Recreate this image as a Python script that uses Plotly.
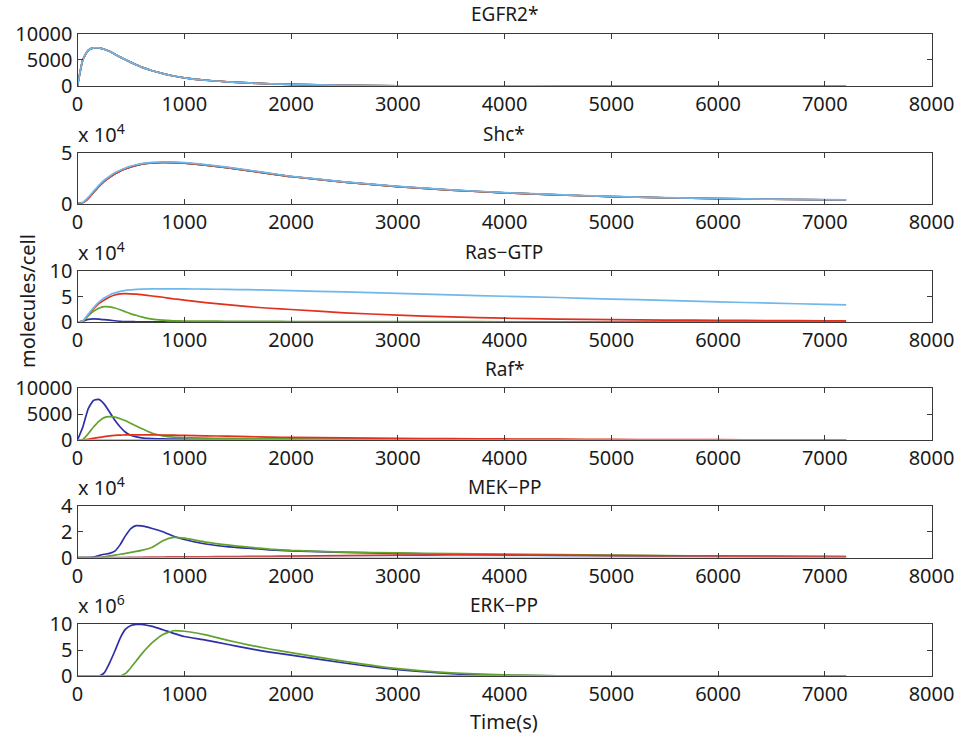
import plotly.graph_objects as go

T = [0, 50, 100, 150, 200, 250, 300, 350, 400, 450, 500, 550, 600, 700, 800, 900,
     1000, 1200, 1400, 1600, 1800, 2000, 2500, 3000, 3500, 4000, 4500, 5000, 5500,
     6000, 6500, 7000, 7200]

titles = ["EGFR2*", "Shc*", "Ras\u2212GTP", "Raf*", "MEK\u2212PP", "ERK\u2212PP"]
exponents = [None, 4, 4, None, 4, 6]
y_ranges = [[0, 10000], [0, 5], [0, 10], [0, 10000], [0, 4], [0, 10]]
y_ticks = [[0, 5000, 10000], [0, 5], [0, 5, 10], [0, 5000, 10000], [0, 2, 4], [0, 5, 10]]
x_ticks = [0, 1000, 2000, 3000, 4000, 5000, 6000, 7000, 8000]

Z = [0] * 33

egfr_blue = [0, 5000, 6800, 7250, 7250, 7000, 6600, 6050, 5500, 5000, 4500, 4050, 3600, 2900, 2350, 1900,
             1550, 1100, 800, 580, 420, 300, 120, 50, 20, 8, 3, 0, 0, 0, 0, 0, 0]
egfr_lightblue = egfr_blue

shc_lightblue = [0, 0.1, 0.6, 1.2, 1.8, 2.3, 2.7, 3.05, 3.3, 3.52, 3.7, 3.84, 3.95, 4.08, 4.12, 4.1,
                 4.05, 3.85, 3.6, 3.3, 3.0, 2.7, 2.15, 1.7, 1.35, 1.08, 0.87, 0.7, 0.58, 0.5, 0.43, 0.38, 0.36]
shc_other = [0, 0.08, 0.5, 1.1, 1.7, 2.2, 2.6, 2.95, 3.22, 3.45, 3.63, 3.78, 3.9, 4.02, 4.06, 4.04,
             4.0, 3.8, 3.55, 3.26, 2.96, 2.67, 2.12, 1.68, 1.33, 1.06, 0.85, 0.69, 0.57, 0.49, 0.42, 0.37, 0.35]

ras_lightblue = [0, 0.2, 1.5, 2.8, 3.9, 4.7, 5.3, 5.7, 6.0, 6.2, 6.3, 6.38, 6.45, 6.5, 6.5, 6.5,
                 6.5, 6.45, 6.4, 6.33, 6.25, 6.15, 5.9, 5.6, 5.3, 5.05, 4.8, 4.5, 4.25, 3.95, 3.7, 3.45, 3.35]
ras_red = [0, 0.2, 1.4, 2.6, 3.6, 4.3, 4.9, 5.3, 5.5, 5.55, 5.5, 5.45, 5.35, 5.1, 4.85, 4.55,
           4.3, 3.8, 3.4, 3.0, 2.7, 2.45, 1.8, 1.35, 1.0, 0.75, 0.58, 0.47, 0.38, 0.32, 0.28, 0.25, 0.24]
ras_green = [0, 0.2, 1.2, 2.1, 2.7, 3.0, 2.95, 2.75, 2.4, 2.0, 1.6, 1.3, 1.0, 0.55, 0.35, 0.25,
             0.2, 0.17, 0.15, 0.13, 0.11, 0.1, 0.08, 0.07, 0.06, 0.05, 0.05, 0.04, 0.04, 0.03, 0.03, 0.03, 0.03]
ras_blue = [0, 0.2, 0.5, 0.6, 0.55, 0.45, 0.35, 0.25, 0.15, 0.1, 0.07, 0.05, 0.03, 0.02, 0.01, 0,
            0, 0, 0, 0, 0, 0, 0, 0, 0, 0, 0, 0, 0, 0, 0, 0, 0]

raf_blue = [0, 2500, 6000, 7600, 7800, 6900, 5400, 3800, 2500, 1500, 900, 600, 400, 250, 200, 170,
            150, 130, 110, 90, 80, 70, 55, 40, 30, 25, 20, 15, 12, 10, 8, 6, 5]
raf_green = [0, 100, 1200, 2500, 3600, 4300, 4500, 4400, 4100, 3700, 3200, 2700, 2200, 1300, 800, 550,
             450, 350, 300, 260, 230, 200, 160, 120, 90, 70, 55, 40, 32, 25, 20, 16, 15]
raf_red = [0, 20, 150, 300, 500, 650, 800, 900, 950, 980, 1000, 1000, 1000, 980, 950, 920,
           880, 800, 730, 650, 570, 500, 400, 320, 250, 200, 150, 110, 85, 60, 45, 35, 30]

mek_blue = [0, 0, 0, 0.03, 0.15, 0.25, 0.32, 0.5, 1.0, 1.7, 2.25, 2.47, 2.45, 2.25, 2.0, 1.65,
            1.4, 1.05, 0.85, 0.72, 0.6, 0.52, 0.4, 0.32, 0.26, 0.21, 0.17, 0.14, 0.11, 0.09, 0.07, 0.06, 0.05]
mek_green = [0, 0, 0, 0, 0, 0.05, 0.12, 0.18, 0.25, 0.32, 0.4, 0.47, 0.55, 0.8, 1.3, 1.56,
             1.5, 1.2, 0.98, 0.8, 0.65, 0.55, 0.42, 0.36, 0.3, 0.26, 0.22, 0.18, 0.15, 0.12, 0.1, 0.09, 0.08]
mek_red = [0, 0, 0, 0, 0, 0, 0, 0, 0, 0, 0.01, 0.01, 0.02, 0.03, 0.04, 0.045,
           0.05, 0.06, 0.07, 0.08, 0.09, 0.11, 0.15, 0.18, 0.2, 0.2, 0.18, 0.15, 0.13, 0.1, 0.08, 0.07, 0.06]

erk_blue = [0, 0, 0, 0, 0, 0.6, 2.5, 4.8, 7.3, 9.0, 9.7, 9.9, 9.9, 9.55, 8.9, 8.2,
            7.6, 6.9, 6.1, 5.3, 4.6, 4.0, 2.5, 1.2, 0.45, 0.12, 0.03, 0, 0, 0, 0, 0, 0]
erk_green = [0, 0, 0, 0, 0, 0, 0, 0, 0, 0.5, 1.6, 2.9, 4.2, 6.4, 8.0, 8.7,
             8.6, 7.9, 6.9, 6.0, 5.2, 4.5, 2.8, 1.4, 0.6, 0.2, 0.05, 0, 0, 0, 0, 0, 0]

panels = [
    [egfr_blue, egfr_blue, egfr_blue, egfr_lightblue],
    [shc_other, shc_other, shc_other, shc_lightblue],
    [ras_blue, ras_green, ras_red, ras_lightblue],
    [raf_blue, raf_green, raf_red, Z],
    [mek_blue, mek_green, mek_red, Z],
    [erk_blue, erk_green, Z, Z],
]
colors = ["#2f2fa8", "#62a32e", "#e2301e", "#70b8ea"]

W, H = 959, 736
left_px, right_px = 77.5, 931.5
tops_px = [33.5, 153, 271, 388, 506, 624]
bots_px = [86, 203.5, 322, 440, 557.5, 676]

FONT = "Noto Sans"
TXT = "#1a1a1a"
AX = "#3a3a3a"

fig = go.Figure()
layout = dict(width=W, height=H, margin=dict(l=0, r=0, t=0, b=0, autoexpand=False),
              paper_bgcolor="white", plot_bgcolor="white", showlegend=False,
              font=dict(family=FONT, size=20, color=TXT))
annotations = []
for i in range(6):
    n = i + 1
    xa = "x" if n == 1 else f"x{n}"
    ya = "y" if n == 1 else f"y{n}"
    for s, c in zip(panels[i], colors):
        fig.add_trace(go.Scatter(x=T, y=s, mode="lines",
                                 line=dict(color=c, width=1.7, shape="spline", smoothing=0.5),
                                 xaxis=xa, yaxis=ya, hoverinfo="skip"))
    dom_y = [1 - bots_px[i] / H, 1 - tops_px[i] / H]
    layout[f"xaxis{n if n > 1 else ''}"] = dict(
        domain=[left_px / W, right_px / W], anchor=ya, range=[0, 8000],
        tickvals=x_ticks, ticktext=[str(v) for v in x_ticks],
        ticks="inside", ticklen=5, tickcolor=AX, showline=True, linecolor=AX, linewidth=1,
        mirror="ticks", showgrid=False, zeroline=False, automargin=False,
        tickfont=dict(family=FONT, size=20, color=TXT))
    layout[f"yaxis{n if n > 1 else ''}"] = dict(
        domain=dom_y, anchor=xa, range=y_ranges[i],
        tickvals=y_ticks[i], ticktext=[str(v) for v in y_ticks[i]],
        ticks="inside", ticklen=5, tickcolor=AX, showline=True, linecolor=AX, linewidth=1,
        mirror="ticks", showgrid=False, zeroline=False, automargin=False,
        tickfont=dict(family=FONT, size=20, color=TXT))
    annotations.append(dict(text=titles[i], x=(left_px + right_px) / 2 / W,
                            y=1 - (tops_px[i] - 19) / H, xref="paper", yref="paper",
                            xanchor="center", yanchor="middle", showarrow=False,
                            font=dict(family=FONT, size=19, color=TXT)))
    if exponents[i]:
        annotations.append(dict(text=f"x 10<sup>{exponents[i]}</sup>", x=(left_px - 2) / W,
                                y=1 - (tops_px[i] - 3) / H, xref="paper", yref="paper",
                                xanchor="left", yanchor="bottom", showarrow=False,
                                font=dict(family=FONT, size=20, color=TXT)))

annotations.append(dict(text="molecules/cell", x=27 / W, y=1 - 301 / H, xref="paper", yref="paper",
                        xanchor="center", yanchor="middle", textangle=-90, showarrow=False,
                        font=dict(family=FONT, size=20, color=TXT)))
annotations.append(dict(text="Time(s)", x=(left_px + right_px) / 2 / W, y=1 - 721 / H,
                        xref="paper", yref="paper", xanchor="center", yanchor="middle",
                        showarrow=False, font=dict(family=FONT, size=20, color=TXT)))
layout["annotations"] = annotations
fig.update_layout(**layout)
fig.write_html("out.html")
